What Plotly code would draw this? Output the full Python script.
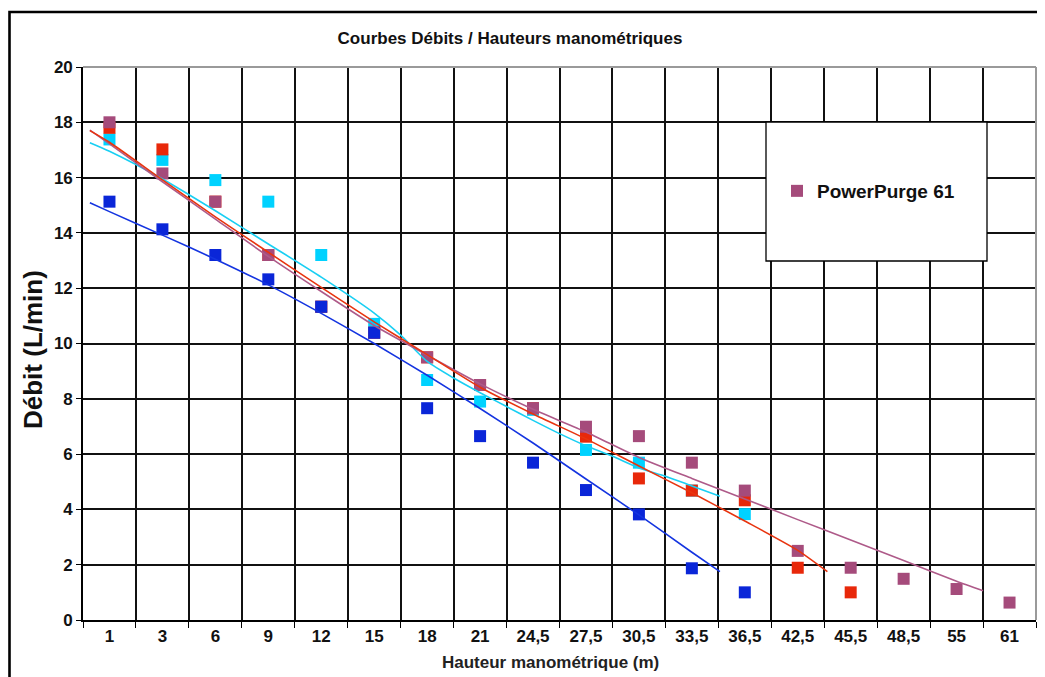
import plotly.graph_objects as go

# ---------------- data ----------------
x_labels = ["1", "3", "6", "9", "12", "15", "18", "21", "24,5", "27,5",
            "30,5", "33,5", "36,5", "42,5", "45,5", "48,5", "55", "61"]

# measured points (L/min) per category ; None = no point
cyan_vals = [17.38, 16.64, 15.91, 15.13, 13.2, 10.71, 8.68, 7.9, 7.6, 6.15,
             5.69, 4.68, 3.83, None, None, None, None, None]
red_vals = [17.8, 17.02, 15.13, 13.2, 11.33, 10.39, 9.5, 8.5, 7.66, 6.63,
            5.12, 4.68, 4.33, 1.89, 1.0, None, None, None]
purple_vals = [18.0, 16.15, 15.13, 13.2, 11.33, 10.39, 9.5, 8.5, 7.66, 6.99,
               6.65, 5.69, 4.68, 2.5, 1.89, 1.49, 1.12, 0.63]
blue_vals = [15.13, 14.13, 13.2, 12.32, 11.33, 10.39, 7.66, 6.65, 5.69, 4.7,
             3.82, 1.87, 1.0, None, None, None, None, None]

# trend curves (x in category index units)
blue_trend_x = [-0.37, 0, 1, 2, 3, 4, 5, 6, 7, 8, 9, 10, 11, 11.53]
blue_trend_y = [15.09, 14.77, 13.92, 13.05, 12.12, 11.09, 10.0, 8.85, 7.65,
                6.4, 5.1, 3.8, 2.45, 1.75]

purple_trend_x = [-0.37, 0, 1, 2, 3, 4, 5, 6, 7, 8, 9, 10, 11, 12, 13, 14,
                  15, 16, 16.5]
purple_trend_y = [17.72, 17.22, 15.85, 14.5, 13.15, 11.88, 10.65, 9.58, 8.54,
                  7.62, 6.8, 5.88, 5.12, 4.38, 3.63, 2.89, 2.15, 1.4, 1.06]

red_trend_x = [-0.37, 0, 1, 2, 3, 4, 5, 6, 7, 8, 9, 10, 11, 12, 13, 13.56]
red_trend_y = [17.7, 17.28, 15.92, 14.58, 13.3, 12.03, 10.78, 9.6, 8.42,
               7.45, 6.55, 5.57, 4.6, 3.58, 2.52, 1.75]

cyan_trend_x = [-0.37, 0, 1, 2, 3, 4, 5, 5.5, 6, 6.5, 7, 7.5, 8, 8.5, 9,
                9.5, 10, 10.5, 11, 11.53]
cyan_trend_y = [17.26, 16.95, 15.95, 14.8, 13.6, 12.4, 11.1, 10.3, 9.35,
                8.75, 8.22, 7.72, 7.22, 6.74, 6.3, 5.92, 5.5, 5.2, 4.85, 4.48]

y_ticks = [0, 2, 4, 6, 8, 10, 12, 14, 16, 18, 20]

# ---------------- styles ----------------
FONT = "Liberation Sans, Arial, sans-serif"
C_CYAN, C_CYAN_L = "#00D2FF", "#19CFF3"
C_RED, C_RED_L = "#E8280A", "#E8340F"
C_PURPLE, C_PURPLE_L = "#A54B7B", "#AE5A89"
C_BLUE, C_BLUE_L = "#0A26D8", "#1434E0"

idx = list(range(len(x_labels)))

fig = go.Figure()


def pts(vals):
    xs = [i for i, v in zip(idx, vals) if v is not None]
    ys = [v for v in vals if v is not None]
    return xs, ys


for vals, col, name, show in [
    (cyan_vals, C_CYAN, "cyan", False),
    (red_vals, C_RED, "red", False),
    (purple_vals, C_PURPLE, "PowerPurge 61", True),
    (blue_vals, C_BLUE, "blue", False),
]:
    xs, ys = pts(vals)
    fig.add_trace(go.Scatter(
        x=xs, y=ys, mode="markers", name=name, showlegend=show,
        marker=dict(symbol="square", size=12, color=col, line=dict(width=0)),
        hoverinfo="skip"))

for tx, ty, col in [
    (blue_trend_x, blue_trend_y, C_BLUE_L),
    (cyan_trend_x, cyan_trend_y, C_CYAN_L),
    (purple_trend_x, purple_trend_y, C_PURPLE_L),
    (red_trend_x, red_trend_y, C_RED_L),
]:
    fig.add_trace(go.Scatter(
        x=tx, y=ty, mode="lines", showlegend=False,
        line=dict(color=col, width=1.6, shape="spline", smoothing=0.6),
        hoverinfo="skip"))

OFF = 8  # page body margin
L, R, T, B = 83 - OFF, 1036 - OFF, 67 - OFF, 620 - OFF
W, H = 1045 - OFF, 677 - OFF
pw, ph = R - L, B - T


def px(xp):
    return (xp - OFF - L) / pw


def py(yp):
    return (B - (yp - OFF)) / ph


boundaries = [i - 0.5 for i in range(len(x_labels) + 1)]

fig.update_layout(
    width=W, height=H,
    margin=dict(l=L, r=W - R, t=T, b=H - B),
    paper_bgcolor="white", plot_bgcolor="white",
    font=dict(family=FONT, color="black"),
    title=dict(text="Courbes Débits / Hauteurs manométriques",
               font=dict(size=17, family=FONT, color="#111", weight="bold"),
               x=(510 - OFF) / W, xref="container", xanchor="center",
               y=1 - (38 - OFF) / H, yref="container", yanchor="middle"),
    xaxis=dict(
        range=[-0.5, len(x_labels) - 0.5],
        tickmode="array", tickvals=idx, ticktext=x_labels,
        ticks="", showgrid=False, zeroline=False,
        showline=True, linecolor="black", linewidth=1.6,
        tickfont=dict(size=17, family=FONT, color="#111", weight="bold"),
        minor=dict(tickmode="array", tickvals=boundaries, ticks="outside",
                   ticklen=6, tickwidth=1.4, tickcolor="black",
                   showgrid=True, gridcolor="#111", gridwidth=1.5),
    ),
    yaxis=dict(
        range=[0, 20], tickmode="array", tickvals=y_ticks,
        ticks="outside", ticklen=5, tickwidth=1.4, tickcolor="black",
        showgrid=True, gridcolor="#111", gridwidth=1.5, zeroline=False,
        showline=True, linecolor="black", linewidth=1.6,
        tickfont=dict(size=17, family=FONT, color="#111", weight="bold"),
    ),
    legend=dict(x=px(777), y=py(191), xanchor="left", yanchor="middle",
                bgcolor="rgba(0,0,0,0)", borderwidth=0,
                font=dict(size=19, family=FONT, color="#111", weight="bold")),
    shapes=[
        # grey top / right border of plot area
        dict(type="line", xref="paper", yref="paper", x0=0, x1=1, y0=1, y1=1,
             line=dict(color="#9a9a9a", width=2), layer="above"),
        dict(type="line", xref="paper", yref="paper", x0=1, x1=1, y0=0, y1=1,
             line=dict(color="#9a9a9a", width=2), layer="above"),
        # legend box
        dict(type="rect", xref="paper", yref="paper",
             x0=px(766), x1=px(987), y0=py(261), y1=py(122),
             fillcolor="white", line=dict(color="black", width=1.3),
             layer="above"),
        # outer frame
        dict(type="rect", xref="paper", yref="paper",
             x0=px(9.5), x1=px(1060), y0=py(700), y1=py(12),
             fillcolor="rgba(0,0,0,0)", line=dict(color="black", width=2.6),
             layer="above"),
    ],
    annotations=[
        dict(text="Hauteur manométrique (m)", xref="paper", yref="paper",
             x=px(550), y=py(662), xanchor="center", yanchor="middle",
             showarrow=False,
             font=dict(size=17, family=FONT, color="#222", weight="bold")),
        dict(text="Débit (L/min)", xref="paper", yref="paper",
             x=px(33), y=py(350), xanchor="center", yanchor="middle",
             textangle=-90, showarrow=False,
             font=dict(size=26, family=FONT, color="#111", weight="bold")),
    ],
)

fig.write_html("out.html")
